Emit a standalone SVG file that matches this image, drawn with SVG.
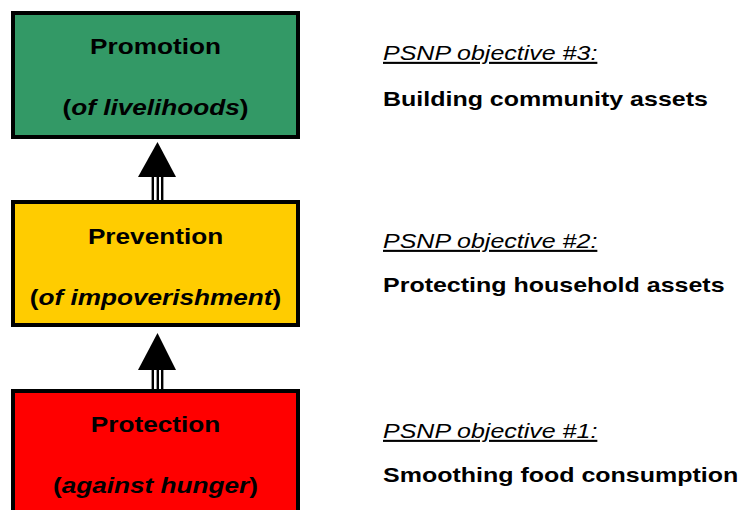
<svg xmlns="http://www.w3.org/2000/svg" width="742" height="510" viewBox="0 0 742 510">
<style>
.box{stroke:#000;stroke-width:4}
.bt{font-family:"Liberation Sans",Arial,sans-serif;font-size:22px;font-weight:bold;fill:#000;text-anchor:middle}
.it{font-style:italic}
.ob{font-family:"Liberation Sans",Arial,sans-serif;font-size:21px;font-style:italic;fill:#000;text-decoration:underline}
.ds{font-family:"Liberation Sans",Arial,sans-serif;font-size:21px;font-weight:bold;fill:#000}
.shaft{stroke:#000;stroke-width:2.4}
</style>
<rect width="742" height="510" fill="#fff"/>
<g id="connectors">
  <g id="arrow1">
    <line class="shaft" x1="152.8" y1="176" x2="152.8" y2="201"/>
    <line class="shaft" x1="157.8" y1="176" x2="157.8" y2="201"/>
    <line class="shaft" x1="162.2" y1="176" x2="162.2" y2="201"/>
    <polygon points="157.5,142 176,177 138,177" fill="#000"/>
  </g>
  <g id="arrow2">
    <line class="shaft" x1="152.8" y1="369" x2="152.8" y2="390"/>
    <line class="shaft" x1="157.8" y1="369" x2="157.8" y2="390"/>
    <line class="shaft" x1="162.2" y1="369" x2="162.2" y2="390"/>
    <polygon points="157.5,333 176,370 138,370" fill="#000"/>
  </g>
</g>
<g id="promotion">
  <rect class="box" x="13" y="13" width="285" height="124" fill="#339966"/>
  <text class="bt" transform="translate(155.5,54) scale(1.19,1)">Promotion</text>
  <text class="bt" transform="translate(155.5,115) scale(1.19,1)">(<tspan class="it">of livelihoods</tspan>)</text>
</g>
<g id="prevention">
  <rect class="box" x="13" y="202" width="285" height="123" fill="#FFCC00"/>
  <text class="bt" transform="translate(155.5,244) scale(1.19,1)">Prevention</text>
  <text class="bt" transform="translate(155.5,305) scale(1.19,1)">(<tspan class="it">of impoverishment</tspan>)</text>
</g>
<g id="protection">
  <rect class="box" x="13" y="391" width="285" height="130" fill="#FF0000"/>
  <text class="bt" transform="translate(155.5,432) scale(1.19,1)">Protection</text>
  <text class="bt" transform="translate(155.5,493) scale(1.19,1)">(<tspan class="it">against hunger</tspan>)</text>
</g>
<g id="objective3">
  <text class="ob" transform="translate(383,60) scale(1.19,1)">PSNP objective #3:</text>
  <text class="ds" transform="translate(383,106) scale(1.19,1)">Building community assets</text>
</g>
<g id="objective2">
  <text class="ob" transform="translate(383,248) scale(1.19,1)">PSNP objective #2:</text>
  <text class="ds" transform="translate(383,292) scale(1.19,1)">Protecting household assets</text>
</g>
<g id="objective1">
  <text class="ob" transform="translate(383,438) scale(1.19,1)">PSNP objective #1:</text>
  <text class="ds" transform="translate(383,482) scale(1.19,1)">Smoothing food consumption</text>
</g>
</svg>
